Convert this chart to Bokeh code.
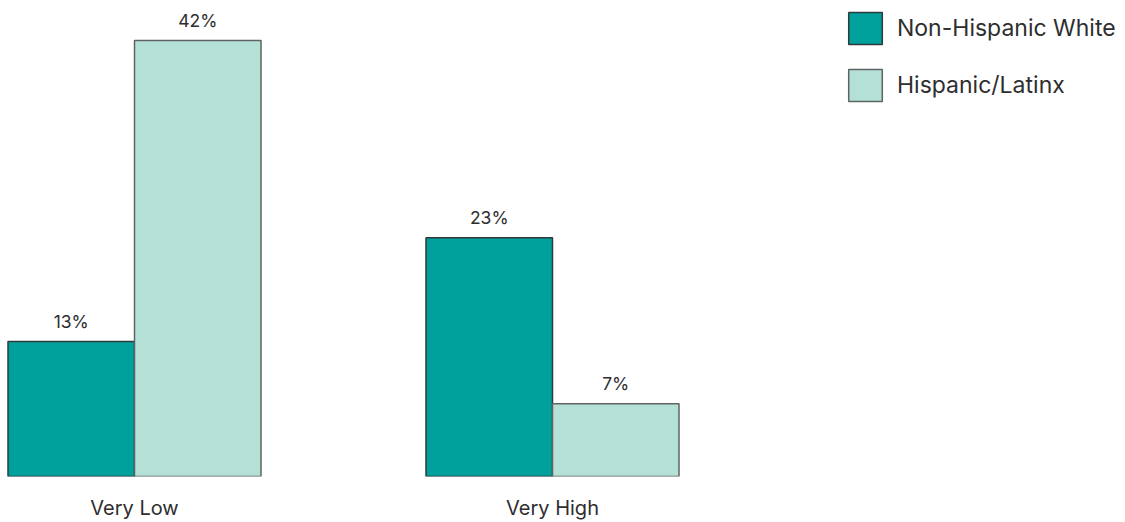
from bokeh.plotting import figure
from bokeh.models import Range1d, FixedTicker, Legend, LegendItem, ColumnDataSource
from bokeh.core.properties import value
from bokeh.transform import dodge
from bokeh.embed import file_html
from bokeh.resources import INLINE

categories = ["Very Low", "Very High"]
series_names = ["Non-Hispanic White", "Hispanic/Latinx"]
non_hispanic_white = [13, 23]
hispanic_latinx = [42, 7]

TEAL = "#00A19D"
LIGHT = "#B4E0D6"
TEXT = "#2E2E2E"
FONT = "Inter"

xs = list(range(len(categories)))
src = ColumnDataSource(dict(
    x=xs,
    nhw=non_hispanic_white,
    hisp=hispanic_latinx,
    nhw_lbl=[f"{v}%" for v in non_hispanic_white],
    hisp_lbl=[f"{v}%" for v in hispanic_latinx],
))

bw = 126.5 / 418.0
p = figure(width=1125, height=522, output_backend="svg",
           toolbar_location=None, x_range=Range1d(-134 / 418.0, (1125 - 134) / 418.0),
           y_range=Range1d(0, 477 / 10.4), min_border_left=0, min_border_right=0,
           min_border_top=0, min_border_bottom=45, y_axis_location=None)
p.outline_line_color = None
p.xgrid.visible = False
p.ygrid.visible = False
p.background_fill_color = "white"
p.border_fill_color = "white"

r1 = p.vbar(x=dodge("x", -bw / 2), top="nhw", width=bw, bottom=0, source=src,
            fill_color=TEAL, line_color="#2F3A3A", line_width=1.5)
r2 = p.vbar(x=dodge("x", bw / 2), top="hisp", width=bw, bottom=0, source=src,
            fill_color=LIGHT, line_color="#5E6463", line_width=1.5)

p.text(x=dodge("x", -bw / 2), y="nhw", text="nhw_lbl", source=src, text_align="center",
       text_baseline="alphabetic", y_offset=-20, text_font=value(FONT),
       text_font_size="17.5px", text_color=TEXT)
p.text(x=dodge("x", bw / 2), y="hisp", text="hisp_lbl", source=src, text_align="center",
       text_baseline="alphabetic", y_offset=-20, text_font=value(FONT),
       text_font_size="17.5px", text_color=TEXT)

ax = p.xaxis[0]
ax.ticker = FixedTicker(ticks=xs)
ax.major_label_overrides = {i: c for i, c in zip(xs, categories)}
ax.axis_line_color = None
ax.major_tick_line_color = None
ax.minor_tick_line_color = None
ax.major_tick_in = 0
ax.major_tick_out = 0
ax.major_label_standoff = 19
ax.major_label_text_font = FONT
ax.major_label_text_font_size = "20px"
ax.major_label_text_color = TEXT

legend = Legend(items=[LegendItem(label=series_names[0], renderers=[r1]),
                       LegendItem(label=series_names[1], renderers=[r2])],
                location=(844, 371), padding=0, margin=0, spacing=17,
                glyph_width=42, glyph_height=40, label_standoff=11,
                label_text_font=FONT, label_text_font_size="23px",
                label_text_color=TEXT, border_line_color=None,
                background_fill_alpha=0)
p.add_layout(legend, "center")

open("out.html", "w").write(file_html(p, INLINE))
